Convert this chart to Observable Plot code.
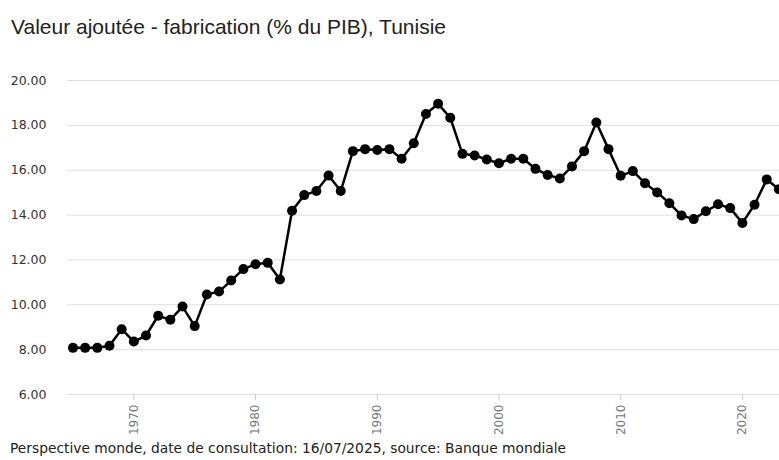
<!DOCTYPE html>
<html>
<head>
<meta charset="utf-8">
<script src="https://cdn.jsdelivr.net/npm/d3@7"></script>
<script src="https://cdn.jsdelivr.net/npm/@observablehq/plot@0.6"></script>
<style>
  html, body { margin: 0; padding: 0; background: #fff; }
  body { width: 779px; height: 460px; position: relative; overflow: hidden; }
  #title { position: absolute; left: 11px; top: 15.5px; font-family: "Liberation Sans", Arial, sans-serif; font-size: 21px; line-height: 1; color: #222; white-space: nowrap; }
  #chart { position: absolute; left: 0; top: 60px; }
  #caption { position: absolute; left: 10px; top: 440px; font-family: "DejaVu Sans", sans-serif; font-size: 13.8px; line-height: 16px; color: #222; white-space: nowrap; }
</style>
</head>
<body>
<div id="title">Valeur ajoutée - fabrication (% du PIB), Tunisie</div>
<div id="chart"></div>
<div id="caption">Perspective monde, date de consultation: 16/07/2025, source: Banque mondiale</div>
<script>
const years = d3.range(1965, 2024);
const values = [
  8.08, 8.08, 8.08, 8.17, 8.91, 8.36, 8.63, 9.51, 9.33, 9.92,
  9.05, 10.46, 10.59, 11.08, 11.59, 11.81, 11.87, 11.13, 14.19, 14.89,
  15.07, 15.76, 15.07, 16.85, 16.94, 16.90, 16.94, 16.51, 17.20, 18.51,
  18.96, 18.34, 16.73, 16.66, 16.48, 16.31, 16.51, 16.51, 16.06, 15.79,
  15.63, 16.17, 16.85, 18.13, 16.94, 15.75, 15.96, 15.42, 15.01, 14.53,
  13.98, 13.82, 14.17, 14.48, 14.31, 13.65, 14.46, 15.59, 15.15
];
const xTicks = [1970, 1980, 1990, 2000, 2010, 2020];
const yTicks = [6, 8, 10, 12, 14, 16, 18, 20];

const data = years.map((y, i) => ({year: y, value: values[i]}));

const chart = Plot.plot({
  width: 779,
  height: 385,
  marginLeft: 67,
  marginRight: 0,
  marginTop: 20,
  marginBottom: 51,
  style: {fontFamily: "DejaVu Sans, sans-serif", background: "transparent", overflow: "visible"},
  x: {domain: [1964.55, 2023.05], label: null},
  y: {domain: [6, 20], label: null},
  marks: [
    Plot.gridY(yTicks, {stroke: "#dedede", strokeOpacity: 1, strokeWidth: 1}),
    Plot.axisY(yTicks, {tickSize: 0, tickPadding: 21, tickFormat: d => d.toFixed(2), fontSize: 12.5, fill: "#333"}),
    Plot.axisX(xTicks, {tickSize: 6, tickPadding: 4, tickRotate: -90, tickFormat: d => String(d), fontSize: 12, fill: "#777", stroke: "#ccc"}),
    Plot.line(data, {x: "year", y: "value", stroke: "#000", strokeWidth: 2.5}),
    Plot.dot(data, {x: "year", y: "value", r: 5, fill: "#000", stroke: null})
  ]
});
document.getElementById("chart").appendChild(chart);
</script>
</body>
</html>
